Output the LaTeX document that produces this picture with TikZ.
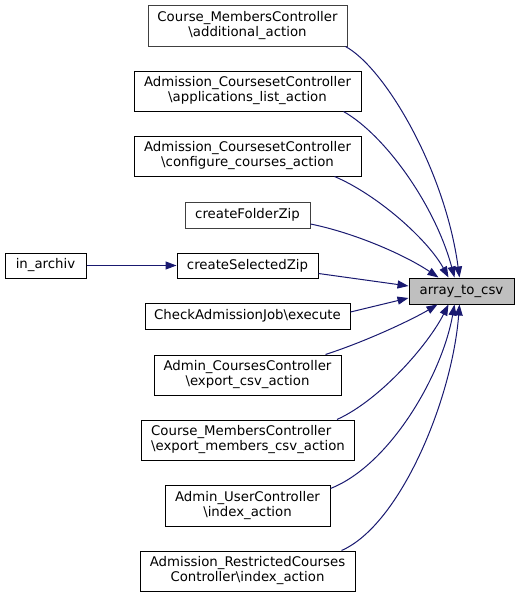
\documentclass[tikz,border=0pt]{standalone}
\usepackage{fontspec}
\setmainfont{DejaVu Sans}
\usetikzlibrary{arrows.meta,positioning}
\definecolor{midblue}{HTML}{191970}
\definecolor{fngray}{HTML}{BFBFBF}
\definecolor{edgegray}{HTML}{404040}
\tikzset{
  fnbox/.style={draw=black,fill=white,line width=1pt,inner sep=0pt,
    font=\fontsize{13.3}{15}\selectfont,align=center},
  call/.style={-{Triangle[length=11pt,width=8pt]},midblue,line width=1pt}
}

\begin{document}
\begin{tikzpicture}[x=1pt,y=-1pt]
  \useasboundingbox (0,0) rectangle (520,597);
  % callers
  \foreach \nm/\x/\y/\w/\h/\txt in {
      acl/247.5/91/227/40/{Admission\_CoursesetController\\\textbackslash applications\_list\_action},
      acc/247.5/156/227/40/{Admission\_CoursesetController\\\textbackslash configure\_courses\_action},
      csz/247.5/265.5/141/25/{createSelectedZip},
      ina/45.5/265.5/81/25/{in\_archiv},
      cae/247.5/316/205/26/{CheckAdmissionJob\textbackslash execute},
      ace/247.5/375/187/40/{Admin\_CoursesController\\\textbackslash export\_csv\_action},
      aui/247.5/505.5/165/41/{Admin\_UserController\\\textbackslash index\_action},
      arc/247.5/571/215/40/{Admission\_RestrictedCourses\\Controller\textbackslash index\_action}}
    \node[fnbox,minimum width=\w pt,minimum height=\h pt] (\nm) at (\x,\y) {\txt};
  \node[fnbox,draw=edgegray,minimum width=199pt,minimum height=41pt] (cm1) at (247.5,25.5)
    {Course\_MembersController\\\textbackslash additional\_action};
  \node[fnbox,draw=edgegray,minimum width=125pt,minimum height=26pt] (cfz) at (247.5,215) {createFolderZip};
  \node[fnbox,align=left,minimum width=213pt,minimum height=40pt] (cme) at (248,440)
    {Course\_MembersController\\\textbackslash export\_members\_csv\_action};
  % the called function
  \node[fnbox,fill=fngray,minimum width=105pt,minimum height=26pt] (atc) at (461.5,291) {array\_to\_csv};
  % calls
  \draw[call] (ina) -- (csz);
  \draw[call] ([xshift=-2pt]cm1.south east) .. controls (385,68) and (445,170) .. ([xshift=51pt]atc.north west);
  \draw[call] ([xshift=-18pt]acl.south east) .. controls (385,135) and (435,205) .. ([xshift=46pt]atc.north west);
  \draw[call] ([xshift=-27pt]acc.south east) .. controls (378,195) and (428,240) .. ([xshift=40pt]atc.north west);
  \draw[call] ([yshift=-9pt]cfz.east) .. controls (355,233) and (405,255) .. ([xshift=30pt]atc.north west);
  \draw[call] ([yshift=-8pt]csz.east) -- ([yshift=5pt]atc.west);
  \draw[call] ([yshift=4pt]cae.east) -- ([yshift=-7pt]atc.west);
  \draw[call] ([xshift=-16pt]ace.north east) .. controls (370,340) and (415,318) .. ([xshift=29pt]atc.south west);
  \draw[call] ([xshift=-18pt]cme.north east) .. controls (380,400) and (428,345) .. ([xshift=40pt]atc.south west);
  \draw[call] ([yshift=-4pt]aui.north east) .. controls (390,465) and (442,375) .. ([xshift=46pt]atc.south west);
  \draw[call] ([xshift=-14pt]arc.north east) .. controls (400,525) and (452,400) .. ([xshift=51pt]atc.south west);
\end{tikzpicture}
\end{document}
